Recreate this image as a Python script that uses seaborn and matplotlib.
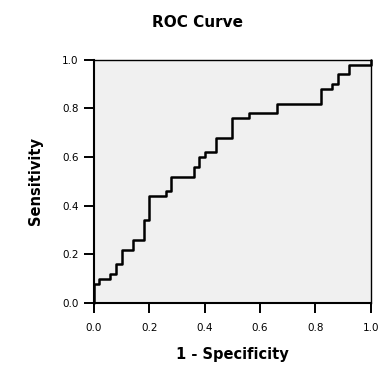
import pandas as pd
import seaborn as sns
import matplotlib
matplotlib.use('Agg')
import matplotlib.pyplot as plt

# ROC corner points (1 - specificity, sensitivity)
fpr = [0.0, 0.0, 0.02, 0.06, 0.08, 0.10, 0.14, 0.18, 0.20, 0.26, 0.28, 0.36,
       0.38, 0.40, 0.44, 0.50, 0.56, 0.66, 0.82, 0.86, 0.88, 0.92, 1.0]
tpr = [0.0, 0.08, 0.10, 0.12, 0.16, 0.22, 0.26, 0.34, 0.44, 0.46, 0.52, 0.56,
       0.60, 0.62, 0.68, 0.76, 0.78, 0.82, 0.88, 0.90, 0.94, 0.98, 1.0]
ticks = [0.0, 0.2, 0.4, 0.6, 0.8, 1.0]

roc = pd.DataFrame({'fpr': fpr, 'tpr': tpr})

sns.set_style('ticks')
plt.rcParams['font.family'] = ['DejaVu Sans']
plt.rcParams['text.color'] = 'black'
plt.rcParams['axes.labelcolor'] = 'black'
plt.rcParams['xtick.color'] = 'black'
plt.rcParams['ytick.color'] = 'black'

fig = plt.figure(figsize=(3.8, 3.67), dpi=100)
ax = fig.add_axes([0.247, 0.174, 0.729, 0.663])
ax.set_facecolor('#f0f0f0')

sns.lineplot(data=roc, x='fpr', y='tpr', drawstyle='steps-post', estimator=None,
             sort=False, color='black', linewidth=1.8, ax=ax, clip_on=False)

ax.set_xlim(0, 1)
ax.set_ylim(0, 1)
ax.set_xticks(ticks)
ax.set_yticks(ticks)
ax.set_xticklabels([f'{t:.1f}' for t in ticks], fontsize=7.5)
ax.set_yticklabels([f'{t:.1f}' for t in ticks], fontsize=7.5)
ax.tick_params(length=7, width=1.4, pad=4)
ax.tick_params(axis='x', pad=7)
for s in ax.spines.values():
    s.set_color('black')
    s.set_linewidth(1.0)
ax.spines['left'].set_linewidth(1.5)
ax.spines['bottom'].set_linewidth(1.5)

ax.set_xlabel('1 - Specificity', fontsize=10.5, fontweight='bold')
ax.set_ylabel('Sensitivity', fontsize=10.5, fontweight='bold')
ax.xaxis.set_label_coords(0.5, -0.18)
ax.yaxis.set_label_coords(-0.184, 0.5)
fig.suptitle('ROC Curve', x=0.52, y=0.94, va='center', fontsize=11, fontweight='bold')

fig.savefig('out.png', dpi=100)
